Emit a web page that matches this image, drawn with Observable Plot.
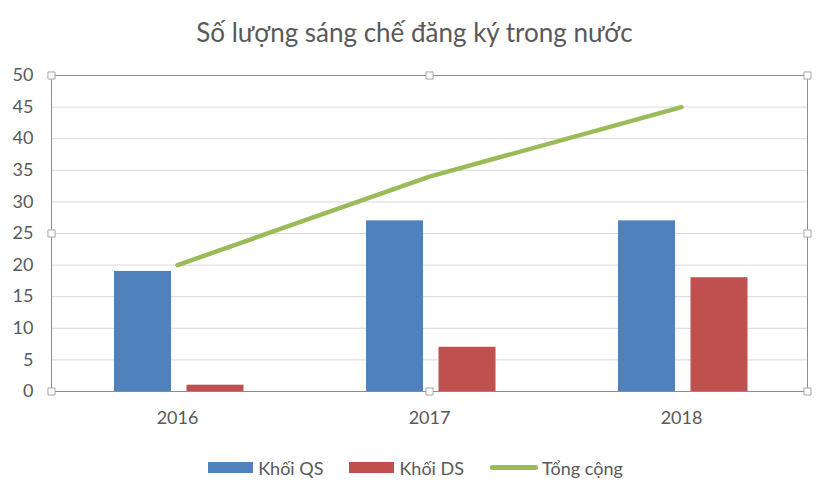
<!DOCTYPE html>
<html>
<head>
<meta charset="utf-8">
<script src="https://cdn.jsdelivr.net/npm/d3@7"></script>
<script src="https://cdn.jsdelivr.net/npm/@observablehq/plot@0.6"></script>
<style>
  body { margin: 0; background: #fff; font-family: Lato, "Open Sans", sans-serif; color: #595959; }
  #wrap { width: 829px; height: 495px; position: relative; }
  #title { height: 60px; line-height: 64px; text-align: center; font-size: 26px; color: #595959; }
  #legend { height: 55px; display: flex; justify-content: center; align-items: center; font-size: 18px; color: #595959; padding-left: 2px; }
  .item { display: flex; align-items: center; margin: 0 13px; }
  .sw { width: 45px; height: 11px; margin-right: 5px; }
  .ln { width: 48px; height: 5px; border-radius: 3px; margin-right: 4px; }
  svg text { fill: #595959; }
</style>
</head>
<body>
<div id="wrap">
  <div id="title">Số lượng sáng chế đăng ký trong nước</div>
  <div id="chart"></div>
  <div id="legend"></div>
</div>
<script>
const years = ["2016", "2017", "2018"];
const khoiQS = [19, 27, 27];
const khoiDS = [1, 7, 18];
const tongCong = [20, 34, 45];
const yTicks = [0, 5, 10, 15, 20, 25, 30, 35, 40, 45, 50];
const seriesNames = ["Khối QS", "Khối DS", "Tổng cộng"];
const colors = ["#4f81bd", "#c0504d", "#9bbb59"];

const qsData = years.map((y, i) => ({year: y, value: khoiQS[i]}));
const dsData = years.map((y, i) => ({year: y, value: khoiDS[i]}));
const totData = years.map((y, i) => ({year: y, value: tongCong[i]}));

const handleAnchors = ["top-left", "top", "top-right", "left", "right", "bottom-left", "bottom", "bottom-right"];

const chart = Plot.plot({
  width: 829,
  height: 380,
  marginTop: 15,
  marginBottom: 49,
  marginLeft: 51,
  marginRight: 22,
  style: {fontFamily: "Lato, 'Open Sans', sans-serif", fontSize: "18px", color: "#595959", background: "#fff"},
  x: {type: "band", domain: years, padding: 0, label: null},
  y: {domain: [0, 50], ticks: yTicks, label: null},
  marks: [
    Plot.ruleY(yTicks, {stroke: "#d9d9d9", strokeWidth: 1}),
    Plot.barY(qsData, {x: "year", y: "value", fill: colors[0], insetLeft: 63, insetRight: 132}),
    Plot.barY(dsData, {x: "year", y: "value", fill: colors[1], insetLeft: 135.5, insetRight: 59.5}),
    Plot.line(totData, {x: "year", y: "value", stroke: colors[2], strokeWidth: 4.5, strokeLinecap: "round"}),
    Plot.frame({stroke: "#8c8c8c", strokeWidth: 1}),
    ...handleAnchors.map(a => Plot.dot([0], {frameAnchor: a, symbol: "square", r: 4, fill: "#fff", stroke: "#a6a6a6", strokeWidth: 1})),
    Plot.axisY({ticks: yTicks, tickSize: 0, tickPadding: 18, fontSize: 18}),
    Plot.axisX({tickSize: 0, tickPadding: 20, fontSize: 18})
  ]
});
document.getElementById("chart").appendChild(chart);

const legend = document.getElementById("legend");
seriesNames.forEach((name, i) => {
  const item = document.createElement("div");
  item.className = "item";
  const sw = document.createElement("div");
  sw.className = i === 2 ? "ln" : "sw";
  sw.style.background = colors[i];
  const t = document.createElement("span");
  t.textContent = name;
  item.appendChild(sw);
  item.appendChild(t);
  legend.appendChild(item);
});
</script>
</body>
</html>
